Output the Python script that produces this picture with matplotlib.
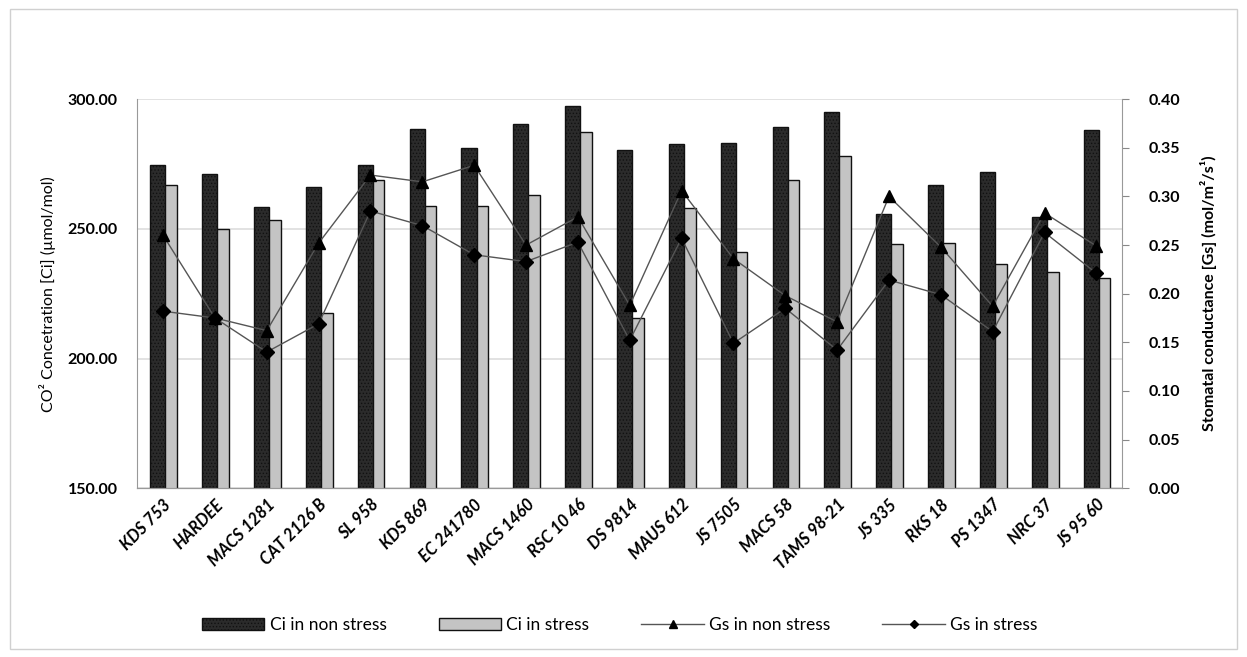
import numpy as np
import matplotlib.pyplot as plt
from matplotlib.patches import Rectangle

genotypes = ["KDS 753", "HARDEE", "MACS 1281", "CAT 2126 B", "SL 958", "KDS 869",
             "EC 241780", "MACS 1460", "RSC 10 46", "DS 9814", "MAUS 612", "JS 7505",
             "MACS 58", "TAMS 98-21", "JS 335", "RKS 18", "PS 1347", "NRC 37", "JS 95 60"]

ci_non_stress = [274.6, 271.0, 258.5, 266.0, 274.6, 288.7, 281.2, 290.4, 297.3, 280.6,
                 282.9, 283.3, 289.1, 295.1, 255.9, 266.9, 272.0, 254.4, 288.0]
ci_stress = [267.1, 249.9, 253.6, 217.4, 268.8, 259.0, 259.0, 263.0, 287.4, 215.8,
             258.0, 241.1, 269.0, 278.0, 244.0, 244.4, 236.6, 233.2, 231.1]

gs_non_stress = [0.260, 0.175, 0.162, 0.252, 0.322, 0.315, 0.332, 0.250, 0.279, 0.188,
                 0.306, 0.236, 0.198, 0.171, 0.300, 0.248, 0.187, 0.283, 0.249]
gs_stress = [0.182, 0.175, 0.140, 0.169, 0.285, 0.270, 0.240, 0.233, 0.253, 0.152,
             0.257, 0.149, 0.185, 0.142, 0.214, 0.199, 0.161, 0.263, 0.221]

plt.rcParams['font.family'] = ['Lato', 'DejaVu Sans']
plt.rcParams['hatch.color'] = '#777777'
plt.rcParams['hatch.linewidth'] = 0.6

fig = plt.figure(figsize=(12.47, 6.57), dpi=100)
ax = fig.add_axes([0.110, 0.257, 0.790, 0.592])
ax2 = ax.twinx()

x = np.arange(len(genotypes))
w = 0.29

b2 = ax.bar(x + 0.125, ci_stress, w, color='#c4c4c4', edgecolor='#111111', linewidth=1.0,
            zorder=2, label='Ci in stress')
b1 = ax.bar(x - 0.1, ci_non_stress, w, color='#2b2b2b', edgecolor='#111111', linewidth=1.0,
            hatch='.....', zorder=3, label='Ci in non stress')

l1, = ax2.plot(x, gs_non_stress, color='#555555', lw=1, marker='^', ms=9,
               mfc='black', mec='black', label='Gs in non stress')
l2, = ax2.plot(x, gs_stress, color='#555555', lw=1, marker='D', ms=7,
               mfc='black', mec='black', label='Gs in stress')

ax.set_ylim(150, 300)
ax.set_yticks([150, 200, 250, 300])
ax.set_yticklabels([f"{v:.2f}" for v in [150, 200, 250, 300]], fontsize=11.5, fontweight='bold')
ax.set_xlim(-0.5, len(genotypes) - 0.5)
ax.set_xticks(x)
ax.set_xticklabels(genotypes, rotation=45, ha='right', rotation_mode='anchor',
                   fontsize=12, fontweight='bold', style='italic')
ax.tick_params(axis='x', length=0, pad=6)
ax.tick_params(axis='y', length=0, pad=14)
ax.grid(axis='y', color='#dddddd', lw=1.2, zorder=0)
ax.set_axisbelow(True)

ax2.set_ylim(0, 0.40)
ax2.set_yticks(np.arange(0, 0.41, 0.05))
ax2.set_yticklabels([f"{v:.2f}" for v in np.arange(0, 0.41, 0.05)], fontsize=11.5, fontweight='bold')
ax2.tick_params(axis='y', length=5, direction='out', color='#888888', pad=14)

for a in (ax, ax2):
    a.spines['top'].set_visible(False)
    a.spines['left'].set_color('#999999')
    a.spines['right'].set_color('#999999')
    a.spines['bottom'].set_color('#999999')
ax.spines['right'].set_visible(False)
ax2.spines['left'].set_visible(False)

ax.set_ylabel("CO² Concetration [Ci] (µmol/mol)", fontsize=11.5, labelpad=8)
ax2.set_ylabel("Stomatal conductance [Gs] (mol/m²/s¹)", fontsize=11.5, fontweight='bold', labelpad=14)

fig.legend([b1, b2, l1, l2], ['Ci in non stress', 'Ci in stress', 'Gs in non stress', 'Gs in stress'],
           loc='center', bbox_to_anchor=(0.497, 0.048), ncol=4, frameon=False, fontsize=12.5,
           handlelength=3.6, handletextpad=0.3, columnspacing=3.0, markerscale=0.6)

fig.patches.append(Rectangle((0.008, 0.012), 0.984, 0.975, transform=fig.transFigure,
                             fill=False, edgecolor='#d0d0d0', lw=1))

fig.savefig("out.png", dpi=100)
